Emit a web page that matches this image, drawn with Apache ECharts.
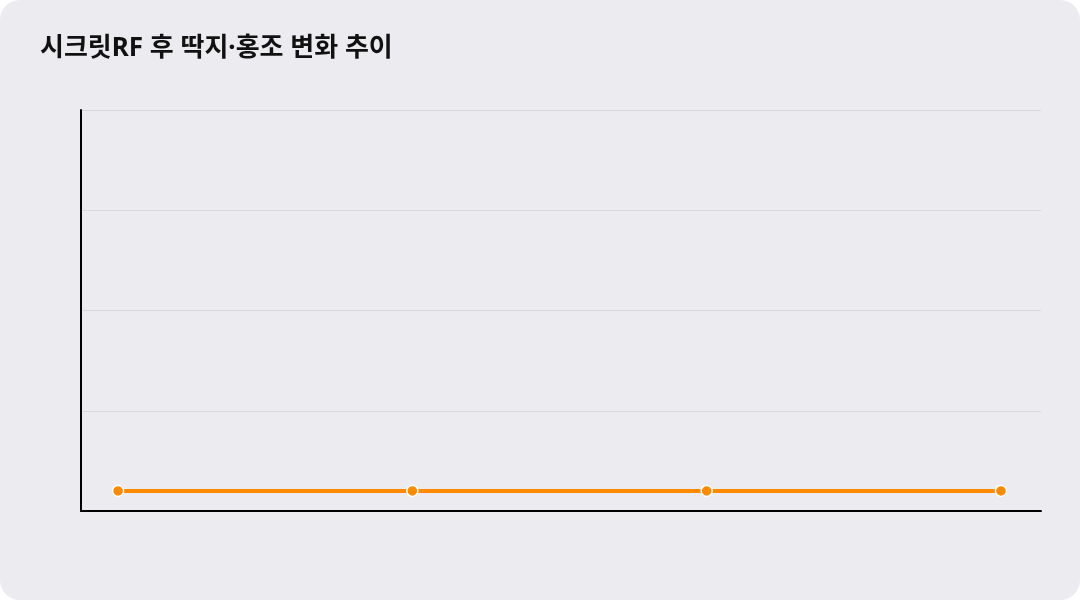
<!DOCTYPE html>
<html>
<head>
<meta charset="utf-8">
<script src="https://cdn.jsdelivr.net/npm/echarts@6/dist/echarts.min.js"></script>
<style>
html,body{margin:0;padding:0;background:#ffffff;}
#wrap{width:1080px;height:600px;background:#ECEBF0;border-radius:20px;overflow:hidden;}
#chart{width:1080px;height:600px;}
</style>
</head>
<body>
<div id="wrap"><div id="chart"></div></div>
<script>
const titleText = '시크릿RF 후 딱지·홍조 변화 추이';
const pointIndex = [0, 1, 2, 3];
const values = [0.2, 0.2, 0.2, 0.2];
const yMin = 0, yMax = 4, yInterval = 1;

const chart = echarts.init(document.getElementById('chart'), null, {renderer: 'canvas'});
chart.setOption({
  backgroundColor: 'transparent',
  animation: false,
  title: {
    text: titleText,
    left: 40, top: 36, padding: 0,
    textStyle: {fontFamily: '"Noto Sans", "Noto Sans CJK KR"', fontWeight: 'bold', fontSize: 26, color: '#111111'}
  },
  grid: {left: 81, right: 39, top: 110, bottom: 89},
  xAxis: {
    type: 'value', min: -0.126, max: 3.136,
    axisLine: {show: true, onZero: false, lineStyle: {color: '#000', width: 2}},
    axisTick: {show: false}, axisLabel: {show: false}, splitLine: {show: false}
  },
  yAxis: {
    type: 'value', min: yMin, max: yMax, interval: yInterval,
    axisLine: {show: true, onZero: false, lineStyle: {color: '#000', width: 2}},
    axisTick: {show: false}, axisLabel: {show: false},
    splitLine: {show: true, lineStyle: {color: '#D8D7DC', width: 1}}
  },
  series: [{
    type: 'line',
    data: pointIndex.map((x, i) => [x, values[i]]),
    lineStyle: {color: '#FF8A00', width: 4},
    itemStyle: {color: '#FF8A00', borderColor: '#ffffff', borderWidth: 1.5},
    symbol: 'circle', symbolSize: 11,
    showSymbol: true
  }]
});
</script>
</body>
</html>
